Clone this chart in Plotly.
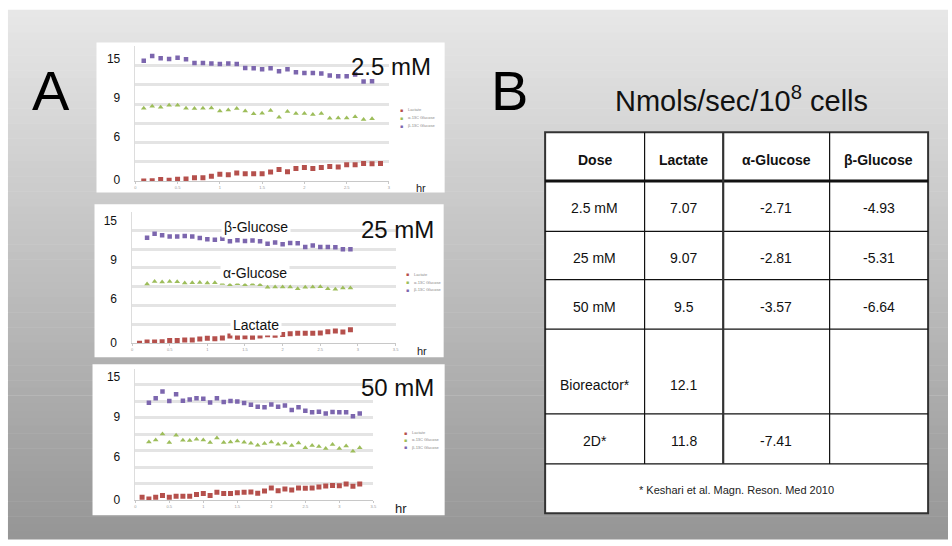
import plotly.graph_objects as go

# ---------------- data ----------------
# Panel A1: 2.5 mM
t1_lac = [0.1, 0.2, 0.3, 0.4, 0.5, 0.6, 0.7, 0.8, 0.9, 1.0, 1.1, 1.2, 1.3, 1.4, 1.5,
          1.6, 1.7, 1.8, 1.9, 2.0, 2.1, 2.2, 2.3, 2.4, 2.5, 2.6, 2.7, 2.8, 2.9]
lac1 = [0.00, 0.03, 0.14, 0.07, 0.17, 0.20, 0.34, 0.34, 0.48, 0.69, 0.65, 0.82, 0.76, 0.76, 0.76,
        0.93, 1.20, 0.96, 1.30, 1.41, 1.30, 1.41, 1.51, 1.44, 1.68, 1.68, 1.82, 1.79, 1.82]
t1_glc = [0.1, 0.2, 0.3, 0.4, 0.5, 0.6, 0.7, 0.8, 0.9, 1.0, 1.1, 1.2, 1.3, 1.4,
          1.5, 1.6, 1.7, 1.8, 1.9, 2.0, 2.1, 2.2, 2.3, 2.4, 2.5, 2.6, 2.7, 2.8]
a1 = [7.56, 7.77, 7.66, 7.87, 7.87, 7.56, 7.53, 7.56, 7.59, 7.29, 7.39, 7.53, 7.29, 6.98,
      7.04, 7.32, 6.63, 7.22, 7.01, 7.01, 6.91, 7.01, 6.53, 6.56, 6.56, 6.67, 6.39, 6.46]
b1 = [12.51, 12.99, 12.78, 12.68, 12.82, 12.65, 12.27, 12.27, 12.23, 12.16, 12.23, 12.16, 11.75, 11.72,
      11.62, 11.72, 11.41, 11.62, 11.31, 11.24, 11.24, 11.17, 10.96, 10.89, 10.89, 11.07, 10.34, 10.38]

# Panel A2: 25 mM
t2_lac = [0.1, 0.2, 0.3, 0.4, 0.5, 0.6, 0.7, 0.8, 0.9, 1.0, 1.1, 1.2, 1.3, 1.4, 1.5,
          1.6, 1.7, 1.8, 1.9, 2.0, 2.1, 2.2, 2.3, 2.4, 2.5, 2.6, 2.7, 2.8, 2.9]
lac2 = [0.00, 0.14, 0.14, 0.17, 0.28, 0.28, 0.35, 0.35, 0.45, 0.52, 0.49, 0.56, 0.77, 0.63, 0.70,
        0.63, 0.77, 0.91, 0.84, 0.94, 1.01, 1.05, 1.05, 1.05, 1.08, 1.22, 1.29, 1.19, 1.43]
t2_glc = [0.2, 0.3, 0.4, 0.5, 0.6, 0.7, 0.8, 0.9, 1.0, 1.1, 1.2, 1.3, 1.4, 1.5,
          1.6, 1.7, 1.8, 1.9, 2.0, 2.1, 2.2, 2.3, 2.4, 2.5, 2.6, 2.7, 2.8, 2.9]
a2 = [6.29, 6.57, 6.50, 6.57, 6.54, 6.40, 6.43, 6.47, 6.40, 6.43, 6.36, 6.22, 6.33, 6.22,
      6.29, 6.22, 5.94, 5.98, 5.98, 5.98, 5.80, 5.94, 5.98, 6.01, 5.80, 5.73, 5.87, 5.87]
b2 = [11.22, 11.64, 11.47, 11.36, 11.36, 11.40, 11.36, 11.19, 11.05, 11.01, 11.12, 10.84, 10.94, 10.87,
      10.91, 10.84, 10.59, 10.70, 10.52, 10.66, 10.63, 10.24, 10.38, 10.24, 10.24, 10.21, 10.00, 10.00]

# Panel A3: 50 mM
t3_lac = [0.1, 0.2, 0.3, 0.4, 0.5, 0.6, 0.7, 0.8, 0.9, 1.0, 1.1, 1.2, 1.3, 1.4, 1.5, 1.6, 1.7,
          1.8, 1.9, 2.0, 2.1, 2.2, 2.3, 2.4, 2.5, 2.6, 2.7, 2.8, 2.9, 3.0, 3.1, 3.2, 3.3]
lac3 = [0.36, 0.16, 0.36, 0.56, 0.36, 0.48, 0.48, 0.48, 0.68, 0.80, 0.56, 0.96, 0.80, 0.80, 0.92, 0.96, 1.00,
        0.84, 1.12, 1.48, 1.16, 1.36, 1.24, 1.48, 1.44, 1.48, 1.60, 1.72, 1.80, 1.76, 1.96, 1.68, 1.96]
t3_glc = [0.2, 0.3, 0.4, 0.5, 0.6, 0.7, 0.8, 0.9, 1.0, 1.1, 1.2, 1.3, 1.4, 1.5, 1.6, 1.7,
          1.8, 1.9, 2.0, 2.1, 2.2, 2.3, 2.4, 2.5, 2.6, 2.7, 2.8, 2.9, 3.0, 3.1, 3.2, 3.3]
a3 = [7.08, 7.32, 8.04, 7.00, 7.88, 7.28, 7.24, 7.40, 7.32, 7.00, 7.56, 7.00, 7.08, 7.20, 7.04, 6.92,
      6.68, 6.88, 7.08, 6.80, 6.96, 6.64, 6.96, 6.36, 6.64, 6.52, 6.28, 6.76, 6.28, 6.60, 5.96, 6.36]
b3 = [11.84, 12.40, 13.20, 12.04, 12.88, 12.08, 12.24, 12.40, 12.32, 11.88, 12.40, 11.92, 12.04, 12.00, 11.80, 11.60,
      11.36, 11.28, 11.64, 11.36, 11.52, 10.96, 11.28, 10.88, 10.68, 10.76, 10.52, 10.72, 10.68, 10.68, 10.20, 10.52]

# tick labels
ytick_text = ["15", "9", "6", "0"]
ytick_pos1 = [12.7, 8.66, 4.57, 0.07]
ytick_pos2 = [13.04, 8.85, 4.72, 0.1]
ytick_pos3 = [15.0, 10.1, 5.28, 0.0]
xtick_vals1 = [0, 0.5, 1, 1.5, 2, 2.5, 3]
xtick_text1 = ["0", "0.5", "1", "1.5", "2", "2.5", "3"]
xtick_vals2 = [0, 0.5, 1, 1.5, 2, 2.5, 3, 3.5]
xtick_text2 = ["0", "0.5", "1", "1.5", "2", "2.5", "3", "3.5"]

series_names = ["Lactate", "α-13C Glucose", "β-13C Glucose"]
dose_labels = ["2.5 mM", "25 mM", "50 mM"]

# table
tbl_headers = ["Dose", "Lactate", "α-Glucose", "β-Glucose"]
tbl_dose = ["2.5 mM", "25 mM", "50 mM", "Bioreactor*", "2D*"]
tbl_lactate = ["7.07", "9.07", "9.5", "12.1", "11.8"]
tbl_alpha = ["-2.71", "-2.81", "-3.57", "", "-7.41"]
tbl_beta = ["-4.93", "-5.31", "-6.64", "", ""]
tbl_note = "* Keshari et al. Magn. Reson. Med 2010"
tbl_title = "Nmols/sec/10<sup>8</sup> cells"

# ---------------- layout helpers ----------------
W, H = 952, 546
FONT = "Liberation Sans, Arial, sans-serif"


def px(x):
    return x / W


def py(y):
    return 1 - y / H


COL_LAC = "#b5504c"
COL_A = "#9dbd5a"
COL_B = "#7c66ae"

fig = go.Figure()
shapes = []
annotations = []

# background gradient
n = 70
top = 10
for i in range(n):
    y0 = top + (H - top) * i / n
    y1 = top + (H - top) * (i + 1) / n
    f = (i + 0.5) / n
    c = int(232 - (232 - 150) * f)
    shapes.append(dict(type="rect", xref="paper", yref="paper", x0=px(7), x1=1,
                       y0=py(y1 + 0.5), y1=py(y0), fillcolor=f"rgb({c},{c},{c})",
                       line_width=0, layer="below"))

panels = [
    dict(box=(96, 43, 446, 195), dom_x=(135, 390), dom_y=(47, 183.3), xmax=3, ymax=14,
         xt=(xtick_vals1, xtick_text1), yt=ytick_pos1,
         data=(t1_lac, lac1, t1_glc, a1, b1), dose=(392, 67.5),
         leg=(403, [111, 119.5, 127.5]), hr=(422, 190, 11)),
    dict(box=(94, 207, 445, 362), dom_x=(131.7, 396.7), dom_y=(214.3, 347.7), xmax=3.5, ymax=14,
         xt=(xtick_vals2, xtick_text2), yt=ytick_pos2,
         data=(t2_lac, lac2, t2_glc, a2, b2), dose=(399, 232.5),
         leg=(409, [277.7, 285.7, 293.3]), hr=(423, 356, 11)),
    dict(box=(92, 369, 446, 522), dom_x=(135, 374.3), dom_y=(373.3, 506.7), xmax=3.5, ymax=16,
         xt=(xtick_vals2, xtick_text2), yt=ytick_pos3,
         data=(t3_lac, lac3, t3_glc, a3, b3), dose=(399, 392.5),
         leg=(407, [438.3, 445.7, 453.3]), hr=(402.5, 515, 13)),
]

layout_axes = {}
for k, p in enumerate(panels):
    i = k + 1
    xs = "" if i == 1 else str(i)
    xa, ya = "x" + xs, "y" + xs
    ylab = "y" + str(i + 3)
    bx0, by0, bx1, by1 = p["box"]
    shapes.append(dict(type="rect", xref="paper", yref="paper", x0=px(bx0), x1=px(bx1),
                       y0=py(by1), y1=py(by0), fillcolor="white", line_width=0, layer="below"))
    t_l, lac, t_g, a, b = p["data"]
    fig.add_trace(go.Scatter(x=t_l, y=lac, mode="markers", xaxis=xa, yaxis=ya, showlegend=False,
                             marker=dict(symbol="square", size=5, color=COL_LAC), name=series_names[0]))
    fig.add_trace(go.Scatter(x=t_g, y=a, mode="markers", xaxis=xa, yaxis=ya, showlegend=False,
                             marker=dict(symbol="triangle-up", size=5, color=COL_A), name=series_names[1]))
    fig.add_trace(go.Scatter(x=t_g, y=b, mode="markers", xaxis=xa, yaxis=ya, showlegend=False,
                             marker=dict(symbol="square", size=4.5, color=COL_B), name=series_names[2]))
    # invisible trace to carry the label axis
    fig.add_trace(go.Scatter(x=[None], y=[None], xaxis=xa, yaxis=ylab, showlegend=False, hoverinfo="skip"))

    layout_axes["xaxis" + xs] = dict(
        domain=[px(p["dom_x"][0]), px(p["dom_x"][1])], range=[0, p["xmax"]], anchor=ya,
        tickmode="array", tickvals=p["xt"][0], ticktext=p["xt"][1],
        tickfont=dict(size=4, color="#999", family=FONT), showgrid=False, zeroline=False,
        showline=True, linecolor="#c8c8c8", linewidth=1, ticks="outside", ticklen=2,
        tickcolor="#c8c8c8", fixedrange=True)
    layout_axes["yaxis" + xs] = dict(
        domain=[py(p["dom_y"][1]), py(p["dom_y"][0])], range=[0, p["ymax"]], anchor=xa,
        dtick=2, tick0=0, showticklabels=False, showgrid=True, gridcolor="#e4e4e4", gridwidth=3,
        zeroline=False, showline=True, linecolor="#dddddd", linewidth=1, fixedrange=True)
    layout_axes["yaxis" + str(i + 3)] = dict(
        overlaying=ya, anchor=xa, side="left", range=[0, p["ymax"]],
        tickmode="array", tickvals=p["yt"], ticktext=ytick_text,
        tickfont=dict(size=12, color="#111", family=FONT), showgrid=False, zeroline=False,
        showline=False, ticklabelstandoff=14, fixedrange=True)

    # dose label
    annotations.append(dict(x=px(p["dose"][0]), y=py(p["dose"][1]), xref="paper", yref="paper",
                            text=dose_labels[k], showarrow=False, xanchor="center", yanchor="middle",
                            font=dict(size=24, color="#111", family=FONT)))
    # legend
    lx, lys = p["leg"]
    for j, (nm, col) in enumerate(zip(series_names, [COL_LAC, COL_A, COL_B])):
        annotations.append(dict(x=px(lx), y=py(lys[j]), xref="paper", yref="paper", text="■",
                                showarrow=False, xanchor="center", yanchor="middle",
                                font=dict(size=5, color=col, family=FONT)))
        annotations.append(dict(x=px(lx + 4), y=py(lys[j]), xref="paper", yref="paper", text=nm,
                                showarrow=False, xanchor="left", yanchor="middle",
                                font=dict(size=4, color="#888", family=FONT)))
    # hr
    annotations.append(dict(x=px(p["hr"][0]), y=py(p["hr"][1]), xref="paper", yref="paper",
                            text="hr", showarrow=False, xanchor="center", yanchor="middle",
                            font=dict(size=p["hr"][2], color="#222", family=FONT)))

# series labels in panel 2
for txt, (xx, yy) in zip(["β-Glucose", "α-Glucose", "Lactate"],
                         [(256.7, 230), (255, 276.7), (256.7, 329)]):
    annotations.append(dict(x=px(xx), y=py(yy), xref="paper", yref="paper", text=txt,
                            showarrow=False, xanchor="center", yanchor="middle", bgcolor="white",
                            borderpad=2, font=dict(size=14, color="#111", family=FONT)))

# Big letters
annotations.append(dict(x=px(50), y=py(92), xref="paper", yref="paper", text="A", showarrow=False,
                        xanchor="center", yanchor="middle", font=dict(size=56, color="#000", family=FONT)))
annotations.append(dict(x=px(511), y=py(92), xref="paper", yref="paper", text="B", showarrow=False,
                        xanchor="center", yanchor="middle", font=dict(size=56, color="#000", family=FONT)))
annotations.append(dict(x=px(744), y=py(100), xref="paper", yref="paper", text=tbl_title, showarrow=False,
                        xanchor="center", yanchor="middle", font=dict(size=29, color="#111", family=FONT)))

# ---------------- table ----------------
cols = [547, 647, 726, 833, 932]
rows = [134, 183.3, 234.3, 283.3, 333.3, 419.3, 470, 520]
shapes.append(dict(type="rect", xref="paper", yref="paper", x0=px(cols[0]), x1=px(cols[-1]),
                   y0=py(rows[-1]), y1=py(rows[0]), fillcolor="white",
                   line=dict(color="#333", width=2), layer="below"))
for r_i, ry in enumerate(rows[1:-1]):
    shapes.append(dict(type="line", xref="paper", yref="paper", x0=px(cols[0]), x1=px(cols[-1]),
                       y0=py(ry), y1=py(ry), line=dict(color="#111", width=3 if r_i == 0 else 1.2)))
for c_i, cx in enumerate(cols[1:-1]):
    shapes.append(dict(type="line", xref="paper", yref="paper", x0=px(cx), x1=px(cx),
                       y0=py(rows[-2]), y1=py(rows[0]),
                       line=dict(color="#333" if c_i == 1 else "#111", width=2.2 if c_i == 1 else 1.2)))

col_centers = [(cols[i] + cols[i + 1]) / 2 for i in range(4)]
for ci, h in enumerate(tbl_headers):
    annotations.append(dict(x=px(col_centers[ci]), y=py(161.7), xref="paper", yref="paper",
                            text=f"<b>{h}</b>", showarrow=False, xanchor="center", yanchor="middle",
                            font=dict(size=14, color="#111", family=FONT)))
row_text_y = [210.7, 261.7, 310.7, 390, 446.7]
for ri in range(len(tbl_dose)):
    for ci, colvals in enumerate([tbl_dose, tbl_lactate, tbl_alpha, tbl_beta]):
        if colvals[ri]:
            annotations.append(dict(x=px(col_centers[ci]), y=py(row_text_y[ri]), xref="paper", yref="paper",
                                    text=colvals[ri], showarrow=False, xanchor="center", yanchor="middle",
                                    font=dict(size=14, color="#111", family=FONT)))
annotations.append(dict(x=px((cols[0] + cols[-1]) / 2), y=py(496.7), xref="paper", yref="paper",
                        text=tbl_note, showarrow=False, xanchor="center", yanchor="middle",
                        font=dict(size=11, color="#222", family=FONT)))

fig.update_layout(
    width=W, height=H, margin=dict(l=0, r=0, t=0, b=0),
    paper_bgcolor="white", plot_bgcolor="rgba(0,0,0,0)",
    shapes=shapes, annotations=annotations, showlegend=False,
    font=dict(family=FONT),
    **layout_axes,
)

fig.write_html("out.html", config={"displayModeBar": False})
